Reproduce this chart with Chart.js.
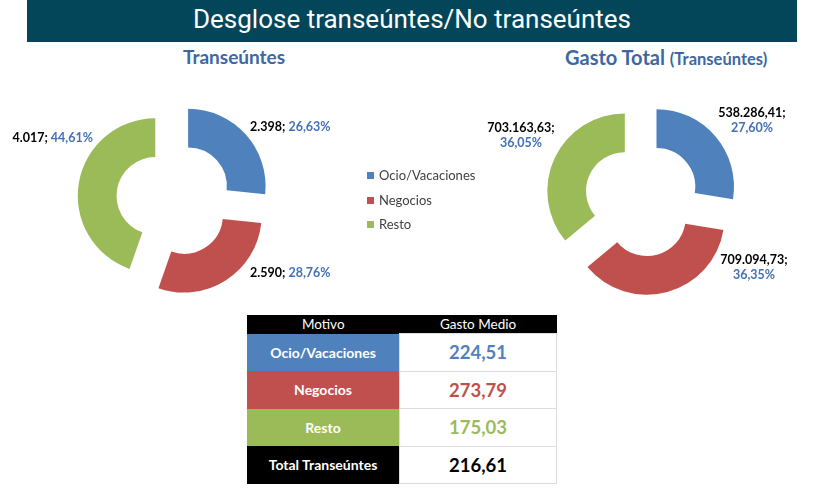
<!DOCTYPE html>
<html>
<head>
<meta charset="utf-8">
<script src="https://cdn.jsdelivr.net/npm/chart.js@4"></script>
<style>
  body { margin: 0; width: 820px; height: 491px; background: #fff; position: relative; overflow: hidden; font-family: Lato, "Open Sans", sans-serif; }
  .banner { position: absolute; left: 27px; top: 0; width: 770px; height: 42px; background: #03465a; color: #fff;
            font-family: Roboto, sans-serif; font-size: 26px; line-height: 39px; text-align: center; }
  .sub { position: absolute; top: 45px; font-weight: bold; color: #3d67a2; font-size: 19px; line-height: 24px; white-space: nowrap; }
  .sub small { font-size: 16.5px; }
  .wrap { position: absolute; top: 90px; width: 350px; height: 220px; }
  .legend { position: absolute; left: 367px; top: 165px; font-size: 13px; color: #404040; }
  .legend div { height: 24.5px; line-height: 20px; white-space: nowrap; }
  .legend i { display: inline-block; width: 7px; height: 7px; margin-right: 5px; vertical-align: 1px; }
  table { position: absolute; left: 247px; top: 315px; width: 310px; border-collapse: collapse; }
  th { background: #000; color: #fff; font-weight: normal; font-size: 13.5px; height: 18px; padding: 0; }
  td { height: 36.5px; padding: 0; text-align: center; }
  td.k { color: #fff; font-weight: bold; font-size: 14px; width: 152px; }
  td.v { font-weight: bold; font-size: 18.5px; border: 1px solid #dcdcdc; }
</style>
</head>
<body>
<div class="banner">Desglose transeúntes/No transeúntes</div>
<div class="sub" style="left:183px">Transeúntes</div>
<div class="sub" style="left:565px;font-size:20px">Gasto Total <small>(Transeúntes)</small></div>

<div class="wrap" style="left:0"><canvas id="chartLeft"></canvas></div>
<div class="wrap" style="left:470px"><canvas id="chartRight"></canvas></div>
<div class="legend" id="legend"></div>
<table id="tabla"></table>

<script>
// ── Data ──────────────────────────────────────────────────────────────────────
const motivos        = ['Ocio/Vacaciones', 'Negocios', 'Resto'];
const transeuntes    = [2398, 2590, 4017];
const transPct       = [26.63, 28.76, 44.61];
const gastoTotal     = [538286.41, 709094.73, 703163.63];
const gastoPct       = [27.60, 36.35, 36.05];
const gastoMedio     = [224.51, 273.79, 175.03];
const gastoMedioTot  = 216.61;
const totalLabel     = 'Total Transeúntes';

const COLORS  = ['#4f81bd', '#c0504d', '#9bbb59'];
const EXPLODE = 19;   // px each slice is pulled out along its mid angle

// label anchors, relative to the doughnut centre
const leftLabelPos  = [{ dx: 76, dy: -72, align: 'left' }, { dx: 76, dy: 74, align: 'left' }, { dx: -81, dy: -61, align: 'right' }];
const rightLabelPos = [{ dx: 110, dy: -86 }, { dx: 112, dy: 61 }, { dx: -121, dy: -71 }];

// ── Helpers ───────────────────────────────────────────────────────────────────
function fmt(n, dec) {
    const parts = n.toFixed(dec).split('.');
    parts[0] = parts[0].replace(/\B(?=(\d{3})+(?!\d))/g, '.');
    return parts.join(',');
}

// Chart.js' own `offset` also grows the radius of wide slices, so pull the
// arcs out by plain translation instead (same radii, like Excel's explode)
const explodePlugin = {
    id: 'explode',
    beforeDatasetDraw(chart, args) {
        const ctx = chart.ctx;
        args.meta.data.forEach(arc => {
            const mid = (arc.startAngle + arc.endAngle) / 2;
            ctx.save();
            ctx.translate(Math.cos(mid) * EXPLODE, Math.sin(mid) * EXPLODE);
            arc.draw(ctx);
            ctx.restore();
        });
        return false;
    }
};

const labelPlugin = {
    id: 'sliceLabels',
    afterDatasetsDraw(chart, args, opts) {
        const ctx = chart.ctx;
        const arc0 = chart.getDatasetMeta(0).data[0];
        const cx = arc0.x, cy = arc0.y;
        ctx.save();
        ctx.font = 'bold 12.5px Lato, sans-serif';
        ctx.textBaseline = 'middle';
        opts.values.forEach((v, i) => {
            const p = opts.pos[i];
            const num = opts.numText(v) + ';';
            const pct = fmt(opts.pct[i], 2) + '%';
            if (opts.twoLines) {
                ctx.textAlign = 'center';
                ctx.fillStyle = '#000';
                ctx.fillText(num, cx + p.dx, cy + p.dy);
                ctx.fillStyle = '#4371b3';
                ctx.fillText(pct, cx + p.dx, cy + p.dy + 15);
            } else {
                const w1 = ctx.measureText(num + ' ').width;
                const w2 = ctx.measureText(pct).width;
                let x = cx + p.dx;
                if (p.align === 'right') x -= w1 + w2;
                ctx.textAlign = 'left';
                ctx.fillStyle = '#000';
                ctx.fillText(num, x, cy + p.dy);
                ctx.fillStyle = '#4371b3';
                ctx.fillText(pct, x + w1, cy + p.dy);
            }
        });
        ctx.restore();
    }
};

function makeDonut(id, values, pad, labelOpts) {
    return new Chart(document.getElementById(id), {
        type: 'doughnut',
        data: {
            labels: motivos,
            datasets: [{ data: values, backgroundColor: COLORS, borderWidth: 0, offset: 0, hoverOffset: 0 }]
        },
        options: {
            responsive: true, maintainAspectRatio: false, animation: false,
            cutout: '50%',
            layout: { padding: pad },
            plugins: { legend: { display: false }, tooltip: { enabled: false }, sliceLabels: labelOpts }
        },
        plugins: [explodePlugin, labelPlugin]
    });
}

// ── Charts ────────────────────────────────────────────────────────────────────
makeDonut('chartLeft', transeuntes, { left: 96.5, right: 98.5, top: 31.5, bottom: 33.5 },
    { values: transeuntes, pct: transPct, pos: leftLabelPos, twoLines: false, numText: v => fmt(v, 0) });
makeDonut('chartRight', gastoTotal, { left: 94.5, right: 100.5, top: 31.5, bottom: 33.5 },
    { values: gastoTotal, pct: gastoPct, pos: rightLabelPos, twoLines: true, numText: v => fmt(v, 2) });

// ── Legend & table ────────────────────────────────────────────────────────────
document.getElementById('legend').innerHTML = motivos
    .map((m, i) => `<div><i style="background:${COLORS[i]}"></i>${m}</div>`).join('');

let rows = '<tr><th>Motivo</th><th>Gasto Medio</th></tr>';
motivos.forEach((m, i) => {
    rows += `<tr><td class="k" style="background:${COLORS[i]}">${m}</td>` +
            `<td class="v" style="color:${COLORS[i]}">${fmt(gastoMedio[i], 2)}</td></tr>`;
});
rows += `<tr><td class="k" style="background:#000">${totalLabel}</td><td class="v" style="color:#000">${fmt(gastoMedioTot, 2)}</td></tr>`;
document.getElementById('tabla').innerHTML = rows;
</script>
</body>
</html>
